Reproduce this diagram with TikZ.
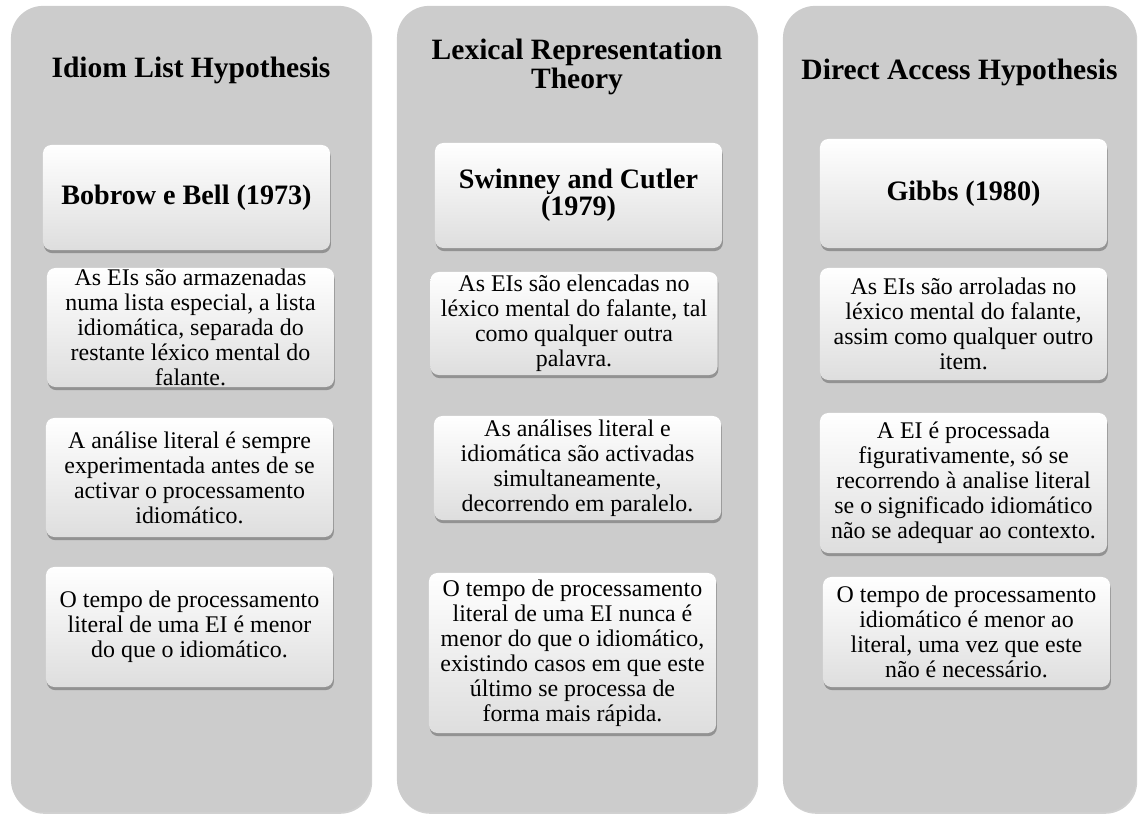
\documentclass[tikz,border=0pt]{standalone}
\usepackage{fontspec}
\setmainfont{Liberation Serif}
\usetikzlibrary{shadows}
\definecolor{colgray}{RGB}{204,204,204}

\begin{document}
\begin{tikzpicture}[x=0.025cm, y=-0.025cm,
    column/.style={fill=colgray, rounded corners=0.8cm, minimum width=9cm, minimum height=20.15cm, inner sep=0pt,
        drop shadow={shadow xshift=0.8pt, shadow yshift=-1.2pt, opacity=0.3, fill=black!60}},
    coltitle/.style={align=center, font=\bfseries\fontsize{21}{17}\selectfont},
    itembox/.style={rounded corners=6pt, top color=white, bottom color=black!13, minimum width=7.175cm,
        align=center, inner sep=2pt, font=\fontsize{17}{17.8}\selectfont,
        drop shadow={shadow xshift=0.6pt, shadow yshift=-2.2pt, opacity=0.45, fill=black!70}},
    headbox/.style={itembox, font=\bfseries\fontsize{20}{17}\selectfont}]

    \useasboundingbox (0,0) rectangle (1139,816);

    \node[column] (col1) at (191,409) {};
    \node[column] (col2) at (577,409) {};
    \node[column, minimum width=8.825cm] (col3) at (959.5,409) {};

    \node[coltitle] (title1) at (191,70) {Idiom List Hypothesis};
    \node[coltitle] (title2) at (577,67) {Lexical Representation\\Theory};
    \node[coltitle] (title3) at (959.5,72) {Direct Access Hypothesis};

    \node[headbox, minimum height=2.625cm] (head1) at (186.5,197.5) {Bobrow e Bell (1973)};
    \node[headbox, minimum height=2.625cm] (head2) at (578.5,195.5) {Swinney and Cutler\\(1979)};
    \node[headbox, minimum height=2.725cm] (head3) at (963.5,193.5) {Gibbs (1980)};

    \node[itembox, minimum height=2.975cm, inner ysep=0pt] (list1) at (190.5,327.5)
        {As EIs são armazenadas\\numa lista especial, a lista\\idiomática, separada do\\restante léxico mental do\\falante.};
    \node[itembox, minimum height=2.975cm] (list2) at (189.5,477.5)
        {A análise literal é sempre\\experimentada antes de se\\activar o processamento\\idiomático.};
    \node[itembox, minimum height=3cm] (list3) at (189.5,627)
        {O tempo de processamento\\literal de uma EI é menor\\do que o idiomático.};

    \node[itembox, minimum height=2.575cm] (lex1) at (574,323.5)
        {As EIs são elencadas no\\léxico mental do falante, tal\\como qualquer outra\\palavra.};
    \node[itembox, minimum height=2.6cm] (lex2) at (577.5,468)
        {As análises literal e\\idiomática são activadas\\simultaneamente,\\decorrendo em paralelo.};
    \node[itembox, minimum height=4cm] (lex3) at (572.5,653)
        {O tempo de processamento\\literal de uma EI nunca é\\menor do que o idiomático,\\existindo casos em que este\\último se processa de\\forma mais rápida.};

    \node[itembox, minimum height=2.8cm] (direct1) at (963.5,324)
        {As EIs são arroladas no\\léxico mental do falante,\\assim como qualquer outro\\item.};
    \node[itembox, minimum height=3.5cm] (direct2) at (963.5,483)
        {A EI é processada\\figurativamente, só se\\recorrendo à analise literal\\se o significado idiomático\\não se adequar ao contexto.};
    \node[itembox, minimum height=2.75cm] (direct3) at (966.5,632)
        {O tempo de processamento\\idiomático é menor ao\\literal, uma vez que este\\não é necessário.};

\end{tikzpicture}
\end{document}
